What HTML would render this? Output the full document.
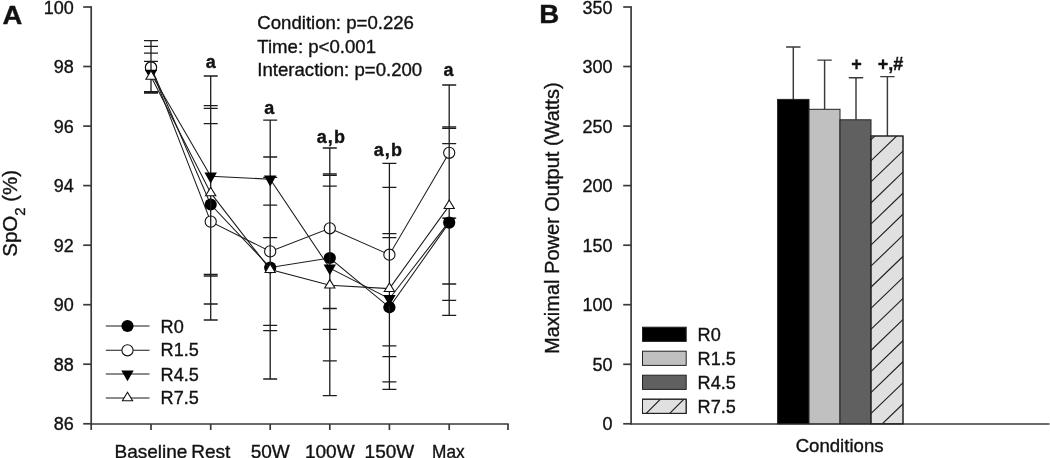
<!DOCTYPE html>
<html lang="en"><head><meta charset="utf-8"><title>Figure</title>
<style>
html,body{margin:0;padding:0;background:#fff;}
body{width:1050px;height:458px;overflow:hidden;}
svg{display:block;font-family:"Liberation Sans", Arial, sans-serif;fill:#111;}
text{stroke:#111;stroke-width:0.35px;paint-order:stroke;}
.ax{stroke:#3a3a3a;stroke-width:1.7;fill:none;}
.ln{stroke:#1a1a1a;stroke-width:1.05;fill:none;}
.eb{stroke:#1c1c1c;stroke-width:1.3;fill:none;}
.tk{font-size:18px;text-anchor:end;}
.xl{font-size:19px;text-anchor:middle;}
.lg{font-size:18.1px;}
.st{font-size:18.6px;}
.sig{font-size:18px;font-weight:bold;text-anchor:middle;}
.pan{font-size:25.5px;font-weight:bold;}
.yt{font-size:20px;text-anchor:middle;}
</style></head><body>
<svg width="1050" height="458" viewBox="0 0 1050 458">
<rect width="1050" height="458" fill="#fff"/>

<g id="panelA">
<text class="pan" x="2.4" y="24.4" textLength="19.8" lengthAdjust="spacingAndGlyphs">A</text>
<path class="ax" d="M91.2 6.3V424.6"/>
<path class="ax" d="M90.5 424H508.7"/>
<path class="ax" d="M83.2 423.8H91.2"/>
<text class="tk" x="73.9" y="430.4">86</text>
<path class="ax" d="M83.2 364.2H91.2"/>
<text class="tk" x="73.9" y="370.8">88</text>
<path class="ax" d="M83.2 304.7H91.2"/>
<text class="tk" x="73.9" y="311.3">90</text>
<path class="ax" d="M83.2 245.2H91.2"/>
<text class="tk" x="73.9" y="251.8">92</text>
<path class="ax" d="M83.2 185.6H91.2"/>
<text class="tk" x="73.9" y="192.2">94</text>
<path class="ax" d="M83.2 126.1H91.2"/>
<text class="tk" x="73.9" y="132.7">96</text>
<path class="ax" d="M83.2 66.5H91.2"/>
<text class="tk" x="73.9" y="73.1">98</text>
<path class="ax" d="M83.2 7.0H91.2"/>
<text class="tk" x="73.9" y="13.6">100</text>
<path class="ax" d="M91.2 424V430"/>
<path class="ax" d="M151 424V430"/>
<path class="ax" d="M210.7 424V430"/>
<path class="ax" d="M270.2 424V430"/>
<path class="ax" d="M329.8 424V430"/>
<path class="ax" d="M389.4 424V430"/>
<path class="ax" d="M449.2 424V430"/>
<path class="ax" d="M508 424V430"/>
<text class="xl" x="151" y="457.8">Baseline</text>
<text class="xl" x="210.7" y="457.8">Rest</text>
<text class="xl" x="270.2" y="457.8">50W</text>
<text class="xl" x="329.8" y="457.8">100W</text>
<text class="xl" x="389.4" y="457.8">150W</text>
<text class="xl" x="448.4" y="457.8" textLength="32.6" lengthAdjust="spacingAndGlyphs">Max</text>
<text class="yt" style="font-size:20.5px" transform="translate(17 213.3) rotate(-90)">SpO<tspan font-size="15" dy="8">2</tspan><tspan dy="-8"> (%)</tspan></text>
<text class="st" x="257.3" y="29.2">Condition: p=0.226</text>
<text class="st" x="257.3" y="52.5">Time: p&lt;0.001</text>
<text class="st" x="257.3" y="75.8">Interaction: p=0.200</text>
<text class="sig" x="210.8" y="68">a</text>
<text class="sig" x="269.2" y="113.6">a</text>
<text class="sig" x="330.8" y="142.6" textLength="28.2" lengthAdjust="spacing">a,b</text>
<text class="sig" x="387.8" y="155.5" textLength="28.2" lengthAdjust="spacing">a,b</text>
<text class="sig" x="448.6" y="75.6">a</text>
<polyline class="ln" points="151,67.3 210.7,204.5 270.2,267.5 329.8,258.0 389.4,307.3 449.2,222.6"/>
<polyline class="ln" points="151,67.6 210.7,221.6 270.2,251.4 329.8,228.3 389.4,254.7 449.2,152.8"/>
<circle cx="151" cy="67.3" r="6.1" fill="#000"/>
<circle cx="210.7" cy="204.5" r="6.1" fill="#000"/>
<circle cx="270.2" cy="267.5" r="6.1" fill="#000"/>
<circle cx="329.8" cy="258.0" r="6.1" fill="#000"/>
<circle cx="389.4" cy="307.3" r="6.1" fill="#000"/>
<circle cx="449.2" cy="222.6" r="6.1" fill="#000"/>
<circle cx="151" cy="67.6" r="5.6" fill="#fff" stroke="#111" stroke-width="1.1"/>
<circle cx="210.7" cy="221.6" r="5.6" fill="#fff" stroke="#111" stroke-width="1.1"/>
<circle cx="270.2" cy="251.4" r="5.6" fill="#fff" stroke="#111" stroke-width="1.1"/>
<circle cx="329.8" cy="228.3" r="5.6" fill="#fff" stroke="#111" stroke-width="1.1"/>
<circle cx="389.4" cy="254.7" r="5.6" fill="#fff" stroke="#111" stroke-width="1.1"/>
<circle cx="449.2" cy="152.8" r="5.6" fill="#fff" stroke="#111" stroke-width="1.1"/>
<polyline class="ln" points="151,73.4 210.7,176.2 270.2,179.2 329.8,268.1 389.4,298.7 449.2,221.4"/>
<polyline class="ln" points="151,76.4 210.7,192.9 270.2,269.6 329.8,285.2 389.4,288.6 449.2,205.6"/>
<path class="eb" d="M151 46.4V91.7M144 46.4H158M144 91.7H158M210.7 105.6V304.0M203.7 105.6H217.7M203.7 304.0H217.7M270.2 205.2V330.6M263.2 205.2H277.2M263.2 330.6H277.2M329.8 186.2V329.4M322.8 186.2H336.8M322.8 329.4H336.8M389.4 233.7V381.8M382.4 233.7H396.4M382.4 381.8H396.4M449.2 126.9V315.4M442.2 126.9H456.2M442.2 315.4H456.2M151 40.6V93.0M144 40.6H158M144 93.0H158M210.7 123.6V320.0M203.7 123.6H217.7M203.7 320.0H217.7M270.2 177.3V325.4M263.2 177.3H277.2M263.2 325.4H277.2M329.8 148.0V308.5M322.8 148.0H336.8M322.8 308.5H336.8M389.4 163.4V345.9M382.4 163.4H396.4M382.4 345.9H396.4M449.2 85.0V218.2M442.2 85.0H456.2M442.2 218.2H456.2M151 53.2V92.6M144 53.2H158M144 92.6H158M210.7 76.0V274.4M203.7 76.0H217.7M203.7 274.4H217.7M270.2 120.2V237.7M263.2 120.2H277.2M263.2 237.7H277.2M329.8 173.8V360.8M322.8 173.8H336.8M322.8 360.8H336.8M389.4 237.6V356.6M382.4 237.6H396.4M382.4 356.6H396.4M449.2 143.6V300.4M442.2 143.6H456.2M442.2 300.4H456.2M151 61.4V92.2M144 61.4H158M144 92.2H158M210.7 108.4V276.0M203.7 108.4H217.7M203.7 276.0H217.7M270.2 157.0V379.0M263.2 157.0H277.2M263.2 379.0H277.2M329.8 175.4V395.7M322.8 175.4H336.8M322.8 395.7H336.8M389.4 187.3V389.4M382.4 187.3H396.4M382.4 389.4H396.4M449.2 128.4V284.0M442.2 128.4H456.2M442.2 284.0H456.2"/>
<path d="M144.8 69.8H157.2L151 80.6Z" fill="#000"/>
<path d="M204.5 172.6H216.9L210.7 183.4Z" fill="#000"/>
<path d="M264.0 175.6H276.4L270.2 186.4Z" fill="#000"/>
<path d="M323.6 264.5H336.0L329.8 275.3Z" fill="#000"/>
<path d="M383.2 295.1H395.6L389.4 305.9Z" fill="#000"/>
<path d="M443.0 217.8H455.4L449.2 228.6Z" fill="#000"/>
<path d="M145.9 79.25H156.1L151 70.8Z" fill="#fff" stroke="#111" stroke-width="1.1" stroke-linejoin="miter"/>
<path d="M205.6 195.75H215.8L210.7 187.3Z" fill="#fff" stroke="#111" stroke-width="1.1" stroke-linejoin="miter"/>
<path d="M265.1 272.45H275.3L270.2 264.0Z" fill="#fff" stroke="#111" stroke-width="1.1" stroke-linejoin="miter"/>
<path d="M324.7 288.05H334.9L329.8 279.6Z" fill="#fff" stroke="#111" stroke-width="1.1" stroke-linejoin="miter"/>
<path d="M384.3 291.45H394.5L389.4 283.0Z" fill="#fff" stroke="#111" stroke-width="1.1" stroke-linejoin="miter"/>
<path d="M444.1 208.45H454.3L449.2 200.0Z" fill="#fff" stroke="#111" stroke-width="1.1" stroke-linejoin="miter"/>
<path class="ln" d="M105.8 326H149.5"/>
<circle cx="127.5" cy="326" r="6.1" fill="#000"/>
<text class="lg" x="160.6" y="332.5">R0</text>
<path class="ln" d="M105.8 350.3H149.5"/>
<circle cx="127.5" cy="350.3" r="5.6" fill="#fff" stroke="#111" stroke-width="1.1"/>
<text class="lg" x="160.6" y="356.3">R1.5</text>
<path class="ln" d="M105.8 374.0H149.5"/>
<path d="M121.3 370.4H133.7L127.5 381.2Z" fill="#000"/>
<text class="lg" x="160.6" y="380.8">R4.5</text>
<path class="ln" d="M105.8 397.9H149.5"/>
<path d="M122.4 400.75H132.6L127.5 392.3Z" fill="#fff" stroke="#111" stroke-width="1.1" stroke-linejoin="miter"/>
<text class="lg" x="160.6" y="404.2">R7.5</text>
</g>
<g id="panelB">
<text class="pan" x="539.3" y="23.2" textLength="20" lengthAdjust="spacingAndGlyphs">B</text>
<path class="ax" d="M631.1 6.3V424.6"/>
<path class="ax" d="M630.4 424H1049.5"/>
<path class="ax" d="M623.2 423.8H631.1"/>
<text class="tk" x="612.6" y="430.4">0</text>
<path class="ax" d="M623.2 364.3H631.1"/>
<text class="tk" x="612.6" y="370.9">50</text>
<path class="ax" d="M623.2 304.7H631.1"/>
<text class="tk" x="612.6" y="311.3">100</text>
<path class="ax" d="M623.2 245.2H631.1"/>
<text class="tk" x="612.6" y="251.8">150</text>
<path class="ax" d="M623.2 185.6H631.1"/>
<text class="tk" x="612.6" y="192.2">200</text>
<path class="ax" d="M623.2 126.1H631.1"/>
<text class="tk" x="612.6" y="132.7">250</text>
<path class="ax" d="M623.2 66.5H631.1"/>
<text class="tk" x="612.6" y="73.1">300</text>
<path class="ax" d="M623.2 7.0H631.1"/>
<text class="tk" x="612.6" y="13.6">350</text>
<text class="yt" transform="translate(559.4 218.2) rotate(-90)">Maximal Power Output (Watts)</text>
<text class="xl" x="839.6" y="452.3" style="font-size:18.6px">Conditions</text>
<defs><clipPath id="hb"><rect x="871" y="136" width="32" height="287.8"/></clipPath><clipPath id="hl"><rect x="642.5" y="399.2" width="43.7" height="14.2"/></clipPath></defs>
<path d="M793.3 99.4V47.0M786.0999999999999 47.0H800.5" stroke="#3a3a3a" stroke-width="1.45" fill="none"/>
<path d="M824.6 109.3V60.1M817.4 60.1H831.8000000000001" stroke="#3a3a3a" stroke-width="1.45" fill="none"/>
<path d="M856.0 119.8V77.7M848.8 77.7H863.2" stroke="#3a3a3a" stroke-width="1.45" fill="none"/>
<path d="M887.4 136.0V76.6M880.1999999999999 76.6H894.6" stroke="#3a3a3a" stroke-width="1.45" fill="none"/>
<rect x="777.6" y="99.4" width="31.4" height="324.4" fill="#000" stroke="#222" stroke-width="1"/>
<rect x="809.0" y="109.3" width="31.0" height="314.5" fill="#c0c0c0" stroke="#222" stroke-width="1"/>
<rect x="840.0" y="119.8" width="31.0" height="304.0" fill="#606060" stroke="#222" stroke-width="1"/>
<rect x="871.0" y="136.0" width="32.0" height="287.8" fill="#e0e0e0" stroke="#222" stroke-width="1"/>
<path d="M869 141.6L905 106.9M869 162.7L905 128.0M869 183.7L905 149.0M869 204.8L905 170.1M869 225.9L905 191.2M869 246.9L905 212.2M869 268.0L905 233.3M869 289.1L905 254.4M869 310.2L905 275.5M869 331.2L905 296.5M869 352.3L905 317.6M869 373.4L905 338.7M869 394.4L905 359.7M869 415.5L905 380.8M869 436.6L905 401.9M869 457.6L905 422.9" stroke="#222" stroke-width="1.15" fill="none" clip-path="url(#hb)"/>
<rect x="871" y="136" width="32" height="287.8" fill="none" stroke="#222" stroke-width="1"/>
<text class="sig" x="856.5" y="69.7">+</text>
<text class="sig" x="890.6" y="70">+,#</text>
<rect x="642.5" y="327.2" width="43.7" height="14.2" fill="#000" stroke="#222" stroke-width="1"/>
<text class="lg" x="697.6" y="341.4">R0</text>
<rect x="642.5" y="351.2" width="43.7" height="14.2" fill="#c0c0c0" stroke="#222" stroke-width="1"/>
<text class="lg" x="697.6" y="365.2">R1.5</text>
<rect x="642.5" y="375.2" width="43.7" height="14.2" fill="#606060" stroke="#222" stroke-width="1"/>
<text class="lg" x="697.6" y="389.1">R4.5</text>
<rect x="642.5" y="399.2" width="43.7" height="14.2" fill="#e0e0e0" stroke="#222" stroke-width="1"/>
<text class="lg" x="697.6" y="412.9">R7.5</text>
<path d="M645.2 414.4L661.7 397.9M668.7 414.4L685.2 397.9" stroke="#222" stroke-width="1.15" fill="none" clip-path="url(#hl)"/>
<rect x="642.5" y="399.2" width="43.7" height="14.2" fill="none" stroke="#222" stroke-width="1"/>
</g>
</svg></body></html>
